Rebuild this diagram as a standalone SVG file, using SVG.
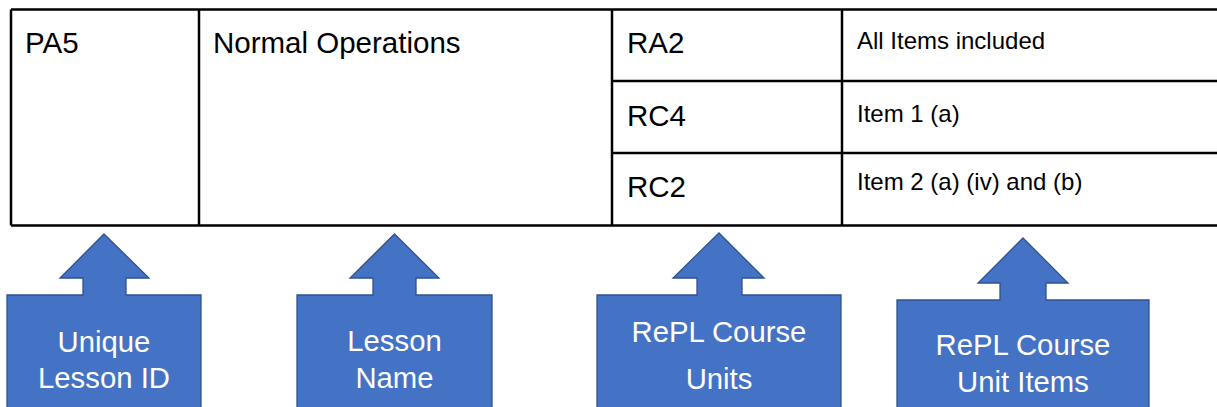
<svg xmlns="http://www.w3.org/2000/svg" width="1217" height="407" viewBox="0 0 1217 407">
<style>
.ln{stroke:#000;stroke-width:2.5;fill:none}
.big{font-family:"Liberation Sans",Arial,sans-serif;font-size:29.5px;fill:#000}
.sm{font-family:"Liberation Sans",Arial,sans-serif;font-size:24px;fill:#000}
.arr{fill:#4472C4;stroke:#2F528F;stroke-width:1.3}
.at{font-family:"Liberation Sans",Arial,sans-serif;font-size:29.3px;fill:#fff;text-anchor:middle}
</style>
<rect width="1217" height="407" fill="#fff"/>
<g id="table">
<path class="ln" d="M11 9.5H1217M11 225.5H1217M11 9.5V225.5M199 9.5V225.5M612 9.5V225.5M842 9.5V225.5M612 81H1217M612 153H1217"/>
</g>
<g id="cell-pa5"><text class="big" x="25" y="53">PA5</text></g>
<g id="cell-name"><text class="big" x="213" y="53">Normal Operations</text></g>
<g id="cell-ra2"><text class="big" x="627" y="53">RA2</text><text class="sm" x="857" y="49">All Items included</text></g>
<g id="cell-rc4"><text class="big" x="627" y="126">RC4</text><text class="sm" x="857" y="122">Item 1 (a)</text></g>
<g id="cell-rc2"><text class="big" x="627" y="197">RC2</text><text class="sm" x="857" y="190">Item 2 (a) (iv) and (b)</text></g>
<g id="arrow-id">
<path class="arr" d="M104 234L149 278H126V295H201V412H7V295H83V278H60Z"/>
<text class="at" x="104" y="352">Unique</text><text class="at" x="104" y="388">Lesson ID</text>
</g>
<g id="arrow-name">
<path class="arr" d="M394.5 234L439 278H416V295H492V412H297V295H373V278H350Z"/>
<text class="at" x="394.5" y="351">Lesson</text><text class="at" x="394.5" y="388">Name</text>
</g>
<g id="arrow-units">
<path class="arr" d="M719 233L764 278H742V295H841V412H597V295H697V278H673Z"/>
<text class="at" x="719" y="342">RePL Course</text><text class="at" x="719" y="389">Units</text>
</g>
<g id="arrow-items">
<path class="arr" d="M1023 238L1068 283H1046V300H1149V412H897V300H1000V283H978Z"/>
<text class="at" x="1023" y="355">RePL Course</text><text class="at" x="1023" y="392">Unit Items</text>
</g>
<g id="connectors"></g>
</svg>
